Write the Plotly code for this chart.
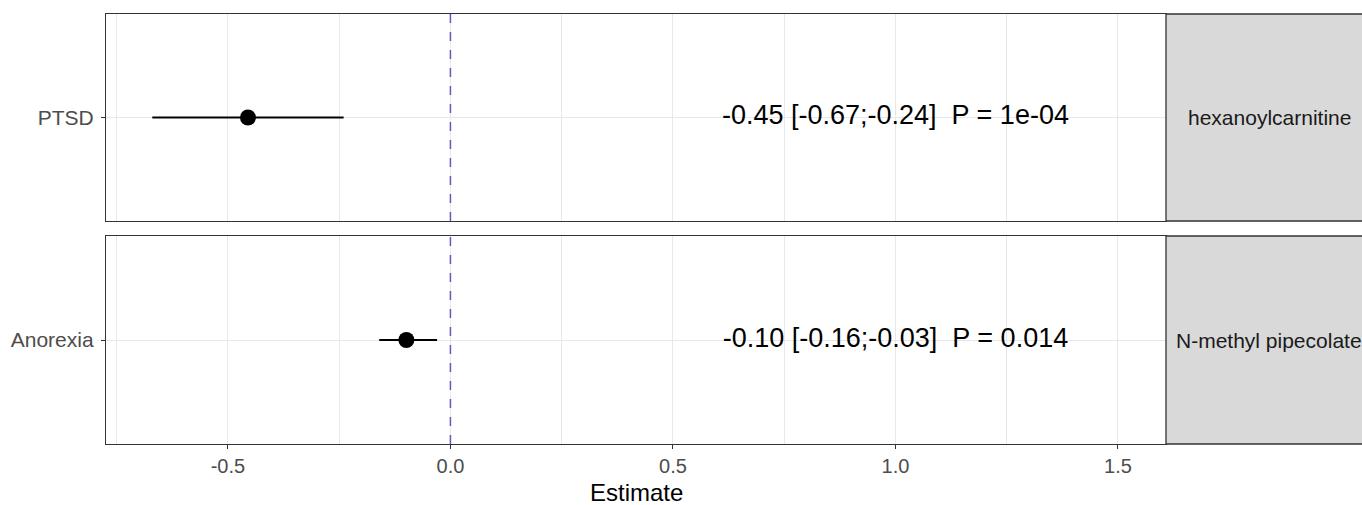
import plotly.graph_objects as go

# ---- data ----
outcomes = ["PTSD", "Anorexia"]
metabolites = ["hexanoylcarnitine", "N-methyl pipecolate"]
estimates = [-0.455, -0.099]
ci_low = [-0.67, -0.16]
ci_high = [-0.24, -0.03]
labels = ["-0.45 [-0.67;-0.24]  P = 1e-04", "-0.10 [-0.16;-0.03]  P = 0.014"]
label_x = 1.0
ref_x = 0.0
x_ticks = [-0.5, 0.0, 0.5, 1.0, 1.5]
x_range = [-0.774, 1.608]

W, H = 1362, 505
FONT = "Liberation Sans, Arial, sans-serif"
GRID = "#e8e8e8"
BORDER = "#333333"

px_left, px_right = 106, 1166
panels_px = [(14, 221), (236, 444)]

fig = go.Figure()

for i, (oc, met, est, lo, hi, lab) in enumerate(zip(outcomes, metabolites, estimates, ci_low, ci_high, labels)):
    xa = "x" if i == 0 else "x2"
    ya = "y" if i == 0 else "y2"
    # reference line
    fig.add_trace(go.Scatter(x=[ref_x, ref_x], y=[-0.5, 0.5], mode="lines",
                             line=dict(color="#5d5bc0", width=1.5, dash="9px,9px"),
                             xaxis=xa, yaxis=ya, hoverinfo="skip", showlegend=False))
    # CI line
    fig.add_trace(go.Scatter(x=[lo, hi], y=[0, 0], mode="lines",
                             line=dict(color="black", width=2.2),
                             xaxis=xa, yaxis=ya, showlegend=False))
    # point
    fig.add_trace(go.Scatter(x=[est], y=[0], mode="markers",
                             marker=dict(color="black", size=16),
                             xaxis=xa, yaxis=ya, showlegend=False))
    # label text
    fig.add_trace(go.Scatter(x=[label_x], y=[0], mode="text", text=[lab],
                             textposition="middle center",
                             textfont=dict(family=FONT, size=27, color="black"),
                             xaxis=xa, yaxis=ya, showlegend=False))

dom_x = [px_left / W, px_right / W]

def ydom(top, bot):
    return [(H - bot) / H, (H - top) / H]

axis_common = dict(
    range=x_range, domain=dom_x, showline=True, mirror=True, linecolor=BORDER, linewidth=1.3,
    showgrid=True, gridcolor=GRID, gridwidth=1.4, zeroline=False,
    tickvals=x_ticks, ticks="outside", ticklen=4, tickwidth=1.3, tickcolor=BORDER,
    minor=dict(dtick=0.25, tick0=-0.75, showgrid=True, gridcolor=GRID, gridwidth=0.8, ticks=""),
    tickfont=dict(family=FONT, size=20, color="#4d4d4d"),
)

fig.update_layout(
    width=W, height=H, margin=dict(l=0, r=0, t=0, b=0),
    paper_bgcolor="white", plot_bgcolor="white", showlegend=False,
    xaxis=dict(axis_common, anchor="y", showticklabels=False, ticks=""),
    xaxis2=dict(axis_common, anchor="y2", ticktext=[f"{v:.1f}" for v in x_ticks],
                ticklabelstandoff=0),
)

for i, (top, bot) in enumerate(panels_px):
    key = "yaxis" if i == 0 else "yaxis2"
    fig.layout[key] = dict(
        domain=ydom(top, bot), range=[-0.5, 0.5], anchor="x" if i == 0 else "x2",
        tickvals=[0], ticktext=[outcomes[i]], showline=True, mirror=True,
        linecolor=BORDER, linewidth=1.3, showgrid=True, gridcolor=GRID, gridwidth=1.4,
        zeroline=False, ticks="outside", ticklen=4, tickwidth=1.3, tickcolor=BORDER,
        ticklabelstandoff=3,
        tickfont=dict(family=FONT, size=21, color="#4d4d4d"),
    )
    yref = ("y" if i == 0 else "y2") + " domain"
    fig.add_shape(type="rect", xref="paper", yref=yref, x0=px_right / W, x1=1.05, y0=0, y1=1,
                  fillcolor="#d9d9d9", line=dict(color=BORDER, width=1.3), layer="above")
    fig.add_annotation(xref="paper", yref=yref, x=1269 / W, y=0.5, text=metabolites[i],
                       showarrow=False, xanchor="center", yanchor="middle",
                       font=dict(family=FONT, size=21, color="#1a1a1a"))

fig.add_annotation(xref="paper", yref="paper", x=(px_left + px_right) / 2 / W, y=(H - 492) / H,
                   text="Estimate", showarrow=False, xanchor="center", yanchor="middle",
                   font=dict(family=FONT, size=24, color="black"))

fig.write_html("out.html")
